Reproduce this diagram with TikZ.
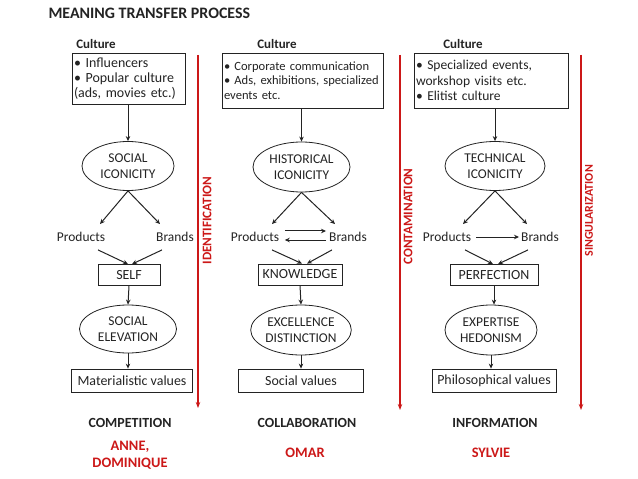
\documentclass[tikz,border=0pt]{standalone}
\usepackage{fontspec}
\setmainfont{Carlito}
\usetikzlibrary{arrows.meta,shapes.geometric}
\definecolor{axisred}{RGB}{204,24,24}
\definecolor{inkgray}{RGB}{35,35,35}

\begin{document}
\begin{tikzpicture}[x=1bp, y=-1bp,
  every node/.style={font=\fontsize{14}{16}\selectfont, text=inkgray},
  culturebox/.style={draw=inkgray, line width=0.8bp, align=left, inner xsep=2bp, inner ysep=2bp},
  oval/.style={draw=inkgray, ellipse, line width=0.8bp, align=center, inner sep=0pt,
    font=\fontsize{13.5}{16.5}\selectfont},
  stagebox/.style={draw=inkgray, line width=0.8bp, inner sep=0pt},
  item/.style={inner xsep=2bp, inner ysep=8bp, font=\fontsize{13.5}{16}\selectfont},
  flow/.style={-{Stealth[length=5bp,width=4.5bp]}, line width=1bp, inkgray},
  axis/.style={-{Stealth[length=6bp,width=4.5bp]}, line width=1.2bp, axisred},
  axislabel/.style={rotate=90, anchor=west, font=\fontsize{13.2}{14}\selectfont\bfseries, text=axisred},
  heading/.style={font=\fontsize{14}{16}\selectfont\bfseries},
  person/.style={font=\fontsize{14.5}{16.5}\selectfont\bfseries, text=axisred, align=center}]
  \useasboundingbox (0,0) rectangle (638,479);
  \node[heading, anchor=west, font=\fontsize{16}{18}\selectfont\bfseries] (title) at (45,13) {MEANING TRANSFER PROCESS};

  % Column 1: social iconicity
  \node[heading, font=\fontsize{13}{15}\selectfont\bfseries] (cul1) at (96,44) {Culture};
  \node[culturebox, minimum width=113bp, minimum height=51bp, text width=109bp,
    font=\fontsize{14}{15}\selectfont] (box1) at (128.5,78.5)
    {• Influencers\\• Popular culture\\(ads, movies etc.)};
  \node[oval, minimum width=92bp, minimum height=49bp] (icon1) at (128,166) {SOCIAL\\ICONICITY};
  \node[item] (prod1) at (81,237) {Products};
  \node[item] (brand1) at (175,237) {Brands};
  \node[stagebox, minimum width=62bp, minimum height=21bp] (self) at (129,275) {SELF};
  \node[oval, minimum width=97bp, minimum height=48bp] (elev) at (128,329) {SOCIAL\\ELEVATION};
  \node[stagebox, minimum width=121bp, minimum height=23bp] (mat) at (132,380.5) {Materialistic values};
  \node[heading] (comp) at (130,423) {COMPETITION};
  \node[person] (anne) at (130,455) {ANNE,\\DOMINIQUE};
  \draw[flow] (box1.south -| icon1.north) -- (icon1.north);
  \draw[flow] (icon1.south) -- ([xshift=19bp]prod1.north);
  \draw[flow] (icon1.south) -- ([xshift=-15bp]brand1.north);
  \draw[flow] ([xshift=17bp]prod1.south) -- ([xshift=-1bp]self.north);
  \draw[flow] ([xshift=-13bp]brand1.south) -- ([xshift=3bp]self.north);
  \draw[flow] (self.south) -- (elev.north);
  \draw[flow] (elev.south) -- (elev.south |- mat.north);

  % Column 2: historical iconicity
  \node[heading, font=\fontsize{13}{15}\selectfont\bfseries] (cul2) at (277,44) {Culture};
  \node[culturebox, minimum width=161bp, minimum height=55bp, text width=157bp,
    font=\fontsize{12.6}{14.5}\selectfont] (box2) at (302.5,80.5)
    {• Corporate communication\\• Ads, exhibitions, specialized\\events etc.};
  \node[oval, minimum width=97bp, minimum height=50bp] (icon2) at (301.5,167) {HISTORICAL\\ICONICITY};
  \node[item] (prod2) at (255,237) {Products};
  \node[item] (brand2) at (348,237) {Brands};
  \node[stagebox, minimum width=84bp, minimum height=21bp] (know) at (300,274.5) {KNOWLEDGE};
  \node[oval, minimum width=97bp, minimum height=50bp] (excel) at (301,330) {EXCELLENCE\\DISTINCTION};
  \node[stagebox, minimum width=125bp, minimum height=23bp] (socval) at (301,380.5) {Social values};
  \node[heading] (collab) at (307,423) {COLLABORATION};
  \node[person] (omar) at (305,453) {OMAR};
  \draw[flow] (box2.south -| icon2.north) -- (icon2.north);
  \draw[flow] (icon2.south) -- ([xshift=17bp]prod2.north);
  \draw[flow] (icon2.south) -- ([xshift=-13bp]brand2.north);
  \draw[flow] ([xshift=3.5bp,yshift=6bp]prod2.east) -- ([xshift=-1bp,yshift=6bp]brand2.west);
  \draw[flow] ([xshift=-1bp,yshift=-3bp]brand2.west) -- ([xshift=3.5bp,yshift=-3bp]prod2.east);
  \draw[flow] ([xshift=17bp]prod2.south) -- ([xshift=2bp]know.north);
  \draw[flow] ([xshift=-16bp]brand2.south) -- ([xshift=7bp]know.north);
  \draw[flow] (know.south) -- (excel.north);
  \draw[flow] (excel.south) -- (excel.south |- socval.north);

  % Column 3: technical iconicity
  \node[heading, font=\fontsize{13}{15}\selectfont\bfseries] (cul3) at (463,44) {Culture};
  \node[culturebox, minimum width=154bp, minimum height=55bp, text width=150bp,
    font=\fontsize{13.6}{15.5}\selectfont] (box3) at (491,80.5)
    {• Specialized events,\\workshop visits etc.\\• Elitist culture};
  \node[oval, minimum width=100bp, minimum height=49bp] (icon3) at (495,166) {TECHNICAL\\ICONICITY};
  \node[item] (prod3) at (447,237) {Products};
  \node[item] (brand3) at (540,237) {Brands};
  \node[stagebox, minimum width=88bp, minimum height=21bp] (perf) at (494,275) {PERFECTION};
  \node[oval, minimum width=92bp, minimum height=50bp] (exper) at (491,330) {EXPERTISE\\HEDONISM};
  \node[stagebox, minimum width=124bp, minimum height=23bp] (phil) at (494,380.5) {Philosophical values};
  \node[heading] (info) at (495,423) {INFORMATION};
  \node[person] (sylvie) at (491,453) {SYLVIE};
  \draw[flow] (box3.south -| icon3.north) -- (icon3.north);
  \draw[flow] (icon3.south) -- ([xshift=16bp]prod3.north);
  \draw[flow] (icon3.south) -- ([xshift=-13bp]brand3.north);
  \draw[flow] ([xshift=3bp]prod3.east) -- (brand3.west);
  \draw[flow] ([xshift=18bp]prod3.south) -- ([xshift=-1bp]perf.north);
  \draw[flow] ([xshift=-12bp]brand3.south) -- ([xshift=4bp]perf.north);
  \draw[flow] (perf.south) -- (perf.south |- exper.north);
  \draw[flow] (exper.south) -- (exper.south |- phil.north);

  % red axes
  \coordinate (top1) at (198,55);  \coordinate (end1) at (198,408);
  \coordinate (top2) at (400,55);  \coordinate (end2) at (400,410);
  \coordinate (top3) at (581,55);  \coordinate (end3) at (581,410);
  \draw[axis] (top1) -- (end1);
  \draw[axis] (top2) -- (end2);
  \draw[axis] (top3) -- (end3);
  \node[axislabel] (ident) at (207,268) {IDENTIFICATION};
  \node[axislabel] (contam) at (408,268) {CONTAMINATION};
  \node[axislabel, font=\fontsize{12}{14}\selectfont\bfseries] (singul) at (589,260) {SINGULARIZATION};
\end{tikzpicture}
\end{document}
